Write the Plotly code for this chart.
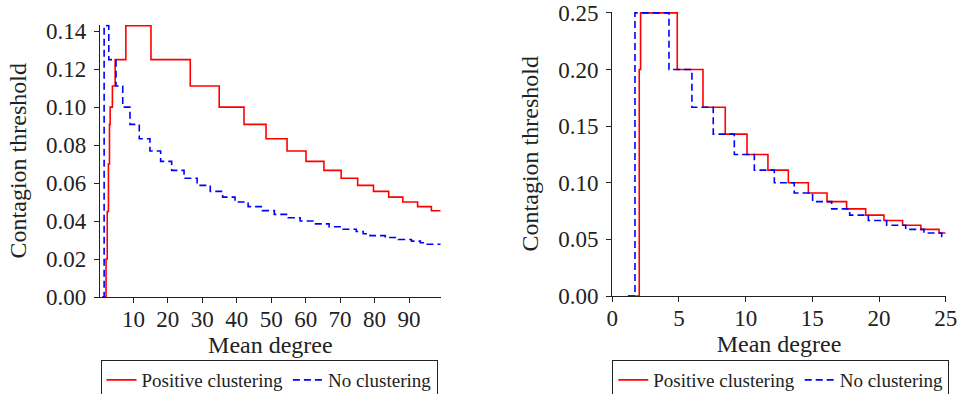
import plotly.graph_objects as go

# ---- data ----
left_red_x = [1.0, 2.06, 2.4, 2.75, 3.05, 3.25, 3.9, 4.7, 7.8, 15.1, 26.5, 34.9, 42.1, 48.5,
              54.6, 60.1, 65.3, 70.3, 75.1, 79.7, 84.1, 88.2, 92.5, 96.5, 99.2]
left_red_y = [0.0, 0.02, 0.045, 0.07, 0.0909, 0.1, 0.1111, 0.125, 0.142857, 0.125, 0.1111, 0.1,
              0.0909, 0.0833, 0.0769, 0.0714, 0.0667, 0.0625, 0.0588, 0.0556, 0.0526, 0.05,
              0.0476, 0.04545, 0.04545]

left_blue_x = [1.0, 1.5, 2.85, 4.95, 6.9, 9.0, 11.7, 14.8, 17.9, 21.1, 24.7, 28.5, 32.3, 35.9,
               39.5, 43.3, 47.4, 50.9, 54.9, 58.4, 62.5, 66.8, 70.3, 74.7, 76.7, 78.7, 83.1,
               86.9, 90.7, 93.3, 95.0, 99.2]
left_blue_y = [0.0, 0.1429, 0.125, 0.1111, 0.1, 0.0909, 0.0833, 0.0769, 0.0714, 0.0667, 0.0625,
               0.0588, 0.0556, 0.0526, 0.05, 0.0476, 0.0455, 0.0435, 0.0417, 0.04, 0.0385, 0.037,
               0.0357, 0.0345, 0.0333, 0.0323, 0.0313, 0.0303, 0.0294, 0.0286, 0.0278, 0.0278]

right_red_x = [1.17, 2.02, 2.12, 4.87, 6.8, 8.47, 10.1, 11.67, 13.2, 14.7, 16.1, 17.57, 19.0,
               20.37, 21.77, 23.14, 24.5, 25.0]
right_red_y = [0.0, 0.2, 0.25, 0.2, 0.1667, 0.1429, 0.125, 0.1111, 0.1, 0.0909, 0.0833, 0.0769,
               0.0714, 0.0667, 0.0625, 0.0588, 0.0556, 0.0556]

right_blue_x = [1.17, 1.70, 4.25, 5.97, 7.57, 9.15, 10.65, 12.15, 13.64, 15.02, 16.45, 17.8,
                19.2, 20.57, 22.0, 23.37, 24.7, 25.0]
right_blue_y = [0.0, 0.25, 0.2, 0.1667, 0.1429, 0.125, 0.1111, 0.1, 0.0909, 0.0833, 0.0769,
                0.0714, 0.0667, 0.0625, 0.0588, 0.0556, 0.0526, 0.0526]

series_names = ["Positive clustering", "No clustering"]
x_title = "Mean degree"
y_title = "Contagion threshold"
left_xticks = [10, 20, 30, 40, 50, 60, 70, 80, 90]
left_yticks = [0.0, 0.02, 0.04, 0.06, 0.08, 0.10, 0.12, 0.14]
right_xticks = [0, 5, 10, 15, 20, 25]
right_yticks = [0.0, 0.05, 0.10, 0.15, 0.20, 0.25]

# ---- figure ----
W, H = 961, 394
FONT = "Liberation Serif"
INK = "#222222"
RED = "#ff0000"
BLUE = "#0000ff"
DASH = "7px,4px"
LW = 1.6
TICK_SIZE = 23
TITLE_SIZE = 24
LEGEND_SIZE = 19

fig = go.Figure()
fig.add_trace(go.Scatter(x=left_red_x, y=left_red_y, mode="lines", line_shape="hv",
                         line=dict(color=RED, width=LW), name=series_names[0],
                         xaxis="x", yaxis="y", legend="legend"))
fig.add_trace(go.Scatter(x=left_blue_x, y=left_blue_y, mode="lines", line_shape="hv",
                         line=dict(color=BLUE, width=LW, dash=DASH), name=series_names[1],
                         xaxis="x", yaxis="y", legend="legend"))
fig.add_trace(go.Scatter(x=right_red_x, y=right_red_y, mode="lines", line_shape="hv",
                         line=dict(color=RED, width=LW), name=series_names[0],
                         xaxis="x2", yaxis="y2", legend="legend2"))
fig.add_trace(go.Scatter(x=right_blue_x, y=right_blue_y, mode="lines", line_shape="hv",
                         line=dict(color=BLUE, width=LW, dash=DASH), name=series_names[1],
                         xaxis="x2", yaxis="y2", legend="legend2"))

def px_x(p):
    return p / W

def px_y(p):
    return 1 - p / H

axis_common = dict(showline=True, linecolor=INK, linewidth=1.3, ticks="outside", ticklen=5,
                   tickwidth=1.2, tickcolor=INK, showgrid=False, zeroline=False,
                   tickfont=dict(family=FONT, size=TICK_SIZE, color=INK), automargin=False)
x_common = dict(axis_common, ticklabelstandoff=-4)
y_common = dict(axis_common, ticklabelstandoff=3)

title_font = dict(family=FONT, size=TITLE_SIZE, color=INK)
legend_common = dict(xanchor="left", yanchor="top", orientation="h", bordercolor=INK,
                     borderwidth=1, bgcolor="white",
                     font=dict(family=FONT, size=LEGEND_SIZE, color=INK))

fig.update_layout(
    width=W, height=H,
    margin=dict(l=0, r=0, t=0, b=0, autoexpand=False),
    paper_bgcolor="white", plot_bgcolor="white",
    font=dict(family=FONT, color=INK),
    xaxis=dict(domain=[px_x(100), px_x(440.7)], range=[0.3, 99.2], anchor="y",
               tickvals=left_xticks,
               title=dict(text=x_title, font=title_font, standoff=4),
               **x_common),
    yaxis=dict(domain=[px_y(297), px_y(24.5)], range=[0, 0.1435], anchor="x",
               tickvals=left_yticks, tickformat=".2f",
               title=dict(text=y_title, font=title_font, standoff=12),
               **y_common),
    xaxis2=dict(domain=[px_x(612.3), px_x(945.7)], range=[0, 25], anchor="y2",
                tickvals=right_xticks,
                title=dict(text=x_title, font=title_font, standoff=4),
                **x_common),
    yaxis2=dict(domain=[px_y(296), px_y(11.5)], range=[0, 0.2512], anchor="x2",
                tickvals=right_yticks, tickformat=".2f",
                title=dict(text=y_title, font=title_font, standoff=12),
                **y_common),
    legend=dict(x=px_x(100.5), y=px_y(360), **legend_common),
    legend2=dict(x=px_x(612.3), y=px_y(360), **legend_common),
    showlegend=True,
)

fig.write_html("out.html")
